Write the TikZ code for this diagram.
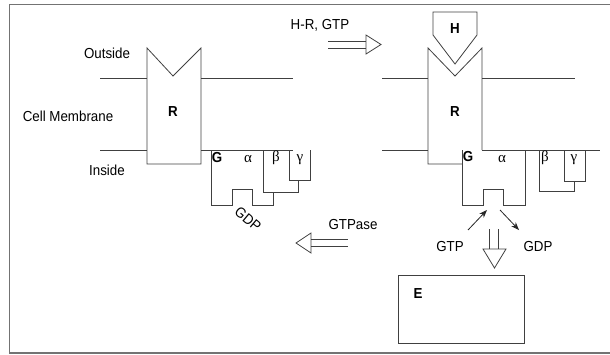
\documentclass[tikz,border=0pt]{standalone}
\usetikzlibrary{arrows.meta}
\usepackage{fontspec}
\setmainfont{Liberation Sans}[FakeStretch=0.92]
\newfontfamily\greekfont{Liberation Serif}
\begin{document}
\begin{tikzpicture}[x=1pt,y=-1pt,
  ln/.style={draw=black!75, line width=0.8pt, line join=miter},
  lbl/.style={inner sep=0pt, font=\fontsize{14.5}{17}\selectfont},
  blbl/.style={inner sep=0pt, font=\fontsize{14.5}{17}\selectfont\bfseries},
  glbl/.style={inner sep=0pt, font=\fontsize{15}{17}\greekfont},
  thinarrow/.style={draw=black!85, line width=0.8pt, -{Stealth[length=8pt,width=6pt]}}]
\useasboundingbox (0,0) rectangle (610,354);
% frame (open on the right)
\draw[draw=black!55, line width=1.3pt] (610,4.5) -- (9.5,4.5) -- (9.5,353) -- (610,353);

% ---------- left state ----------
% membrane lines
\draw[ln] (100,78) -- (147,78);
\draw[ln] (201,78) -- (293,78);
\draw[ln] (100,150) -- (147,150);
\draw[ln] (201,150) -- (293,150);
% receptor R
\draw[ln] (147,164) -- (147,48) -- (173,76) -- (201,48) -- (201,164) -- cycle;
\node[blbl] (R1) at (173,112) {R};
% G protein alpha
\draw[ln] (211,150) -- (211,205) -- (232,205) -- (232,189) -- (252,189) -- (252,205) -- (273,205) -- (273,192);
% beta
\draw[ln] (263,150) -- (263,192) -- (298,192) -- (298,180);
% gamma
\draw[ln] (289,150) -- (289,180) -- (310,180) -- (310,150);
\node[blbl] (G1) at (217,158) {G};
\node[glbl] (a1) at (248,159) {α};
\node[glbl] (b1) at (276,158) {β};
\node[glbl] (c1) at (300,160) {γ};
\node[lbl, rotate=-40] (gdp1) at (248,219) {GDP};

% side labels
\node[lbl] (out) at (107,53) {Outside};
\node[lbl] (mem) at (68,116) {Cell Membrane};
\node[lbl] (ins) at (107,170) {Inside};

% ---------- right state ----------
\draw[ln] (382,78) -- (428,78);
\draw[ln] (482,78) -- (575,78);
\draw[ln] (382,150) -- (428,150);
\draw[ln] (482,150) -- (600,150);
% receptor R
\draw[ln] (462,164) -- (428,164) -- (428,48) -- (455,76) -- (482,48) -- (482,150);
\node[blbl] (R2) at (455,112) {R};
% hormone H
\draw[ln] (433,12) -- (477,12) -- (477,35) -- (455,64) -- (433,35) -- cycle;
\node[blbl] (H) at (455,29) {H};
% G alpha
\draw[ln] (462,150) -- (462,205) -- (483,205) -- (483,189) -- (503,189) -- (503,205) -- (525,205) -- (525,150);
% beta
\draw[ln] (539,150) -- (539,191) -- (574,191) -- (574,181);
% gamma
\draw[ln] (564,150) -- (564,181) -- (585,181) -- (585,150);
\node[blbl] (G2) at (468,157) {G};
\node[glbl] (a2) at (502,159) {α};
\node[glbl] (b2) at (545,158) {β};
\node[glbl] (c2) at (574,160) {γ};

% GTP in / GDP out
\coordinate (gtpin) at (487,210);
\coordinate (gdpout) at (519,230);
\node[lbl] (gtp) at (450,247) {GTP};
\node[lbl] (gdp2) at (538,247) {GDP};
\draw[thinarrow] (468,230) -- (gtpin);
\draw[thinarrow] (500,210) -- (gdpout);

% effector E
\draw[ln] (398,275) rectangle (524,343);
\node[blbl] (E) at (418,294) {E};

% ---------- hollow arrows ----------
\node[lbl] (hr) at (320,25) {H-R, GTP};
\draw[ln] (328,41.5) -- (366,41.5);
\draw[ln] (328,48) -- (366,48);
\draw[ln] (366,35) -- (381,44.5) -- (366,54) -- cycle;

\node[lbl] (gtpase) at (353,225) {GTPase};
\draw[ln] (311,239.5) -- (348,239.5);
\draw[ln] (311,246) -- (348,246);
\draw[ln] (311,233) -- (296,243) -- (311,253) -- cycle;

\draw[ln] (489,229) -- (489,249);
\draw[ln] (498,229) -- (498,249);
\draw[ln] (483,249) -- (506,249) -- (494.5,268) -- cycle;
\end{tikzpicture}
\end{document}
